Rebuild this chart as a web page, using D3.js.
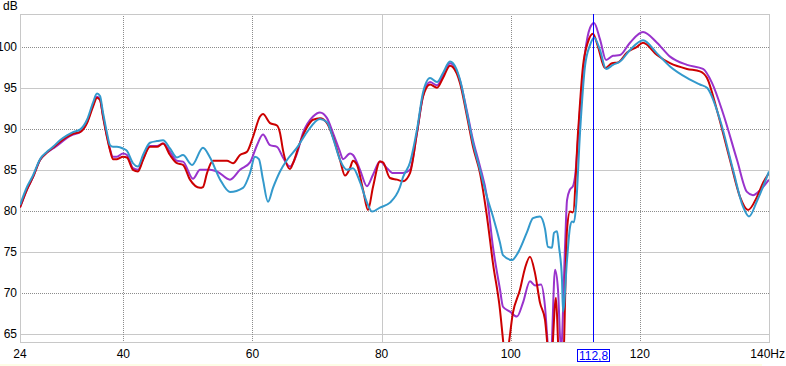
<!DOCTYPE html>
<html>
<head>
<meta charset="utf-8">
<script src="https://cdn.jsdelivr.net/npm/d3@7"></script>
<style>
body { margin: 0; background: #fff; }
svg { display: block; font-family: "Liberation Sans", Arial, sans-serif; }
.tick-label { font-size: 12px; fill: #000; }
.grid-dot { stroke: #8c8c8c; stroke-width: 1; stroke-dasharray: 1,1; shape-rendering: crispEdges; }
.grid-solid { stroke: #c8c8c8; stroke-width: 1; shape-rendering: crispEdges; }
.curve { fill: none; stroke-width: 2; stroke-linejoin: round; }
</style>
</head>
<body>
<div id="plot"></div>
<script>
// frequency response, [Hz, dB]
var redSeries = [
  [24.0,80.4],[25.08,82.6],[26.01,84.1],[27.1,86.2],[28.18,87.1],[29.11,87.7],[30.19,88.4],[31.28,89.0],
  [32.21,89.4],[33.29,89.6],[34.38,90.7],[35.31,92.7],[35.93,93.8],[36.39,93.5],[36.85,91.5],[37.47,89.0],
  [37.94,87.4],[38.4,86.3],[39.02,86.3],[39.95,86.6],[40.57,86.5],[41.5,85.0],[42.27,84.8],[43.05,86.2],
  [44.13,87.8],[45.22,87.8],[46.15,88.2],[47.23,86.8],[48.31,85.8],[49.24,85.6],[50.33,83.8],[51.88,82.8],
  [52.34,82.9],[52.96,84.6],[53.89,86.1],[56.06,86.1],[56.99,85.8],[58.07,86.8],[59.16,87.2],[60.08,89.0],
  [61.17,91.5],[61.63,91.8],[62.72,90.7],[63.8,90.4],[64.27,89.5],[64.73,87.4],[65.82,85.1],[66.28,85.8],
  [67.36,88.3],[68.45,90.2],[69.38,91.1],[70.46,91.3],[71.55,90.7],[72.47,89.0],[73.56,86.2],[74.33,84.3],
  [75.11,85.2],[75.57,86.1],[76.19,85.6],[77.12,82.6],[77.89,80.1],[78.67,82.9],[79.75,86.0],[80.22,85.9],
  [81.3,84.0],[82.39,83.8],[83.32,83.6],[84.4,84.6],[85.48,89.5],[86.41,93.9],[87.5,95.4],[88.58,95.0],
  [89.51,96.2],[90.59,97.7],[91.06,97.5],[92.14,95.6],[93.23,91.5],[94.16,87.8],[95.24,84.6],[96.32,79.3],
  [97.25,73.6],[98.34,67.9],[98.8,64.3],[99.11,62.0],[99.42,62.5],[100.35,67.6],[101.44,70.4],[102.21,73.0],
  [102.98,74.4],[103.76,72.4],[104.53,68.8],[105.31,66.7],[105.77,63.0],[106.2,61.0],[107.01,69.4],
  [107.48,62.0],[108.1,61.5],[108.72,77.7],[109.18,79.9],[109.64,79.8],[110.42,89.5],[111.19,97.6],
  [111.97,100.6],[112.74,101.6],[113.52,100.0],[114.6,97.4],[115.69,98.0],[116.62,98.1],[118.01,99.3],
  [119.56,100.0],[120.49,100.5],[122.65,99.0],[124.67,98.0],[127.3,97.3],[129.31,97.0],[130.4,96.2],
  [131.93,92.3],[133.96,86.2],[135.51,81.7],[136.75,80.1],[138.14,81.7],[139.07,83.4],[140.0,84.6]
];
var purpleSeries = [
  [24.0,80.4],[25.08,82.6],[26.01,84.1],[27.1,86.2],[28.18,87.1],[29.11,87.6],[30.19,88.2],[31.28,88.9],
  [32.21,89.3],[33.29,89.6],[34.38,90.8],[35.31,92.9],[35.93,93.9],[36.39,93.6],[36.85,91.6],[37.47,89.1],
  [37.94,87.5],[38.4,86.6],[39.02,86.6],[39.95,87.0],[40.57,86.8],[41.5,85.2],[42.27,85.0],[43.05,86.3],
  [44.13,87.9],[45.22,87.9],[46.15,88.2],[47.23,87.2],[48.31,86.1],[49.24,86.0],[50.79,83.9],[51.88,85.0],
  [53.43,85.0],[54.51,84.8],[56.52,83.8],[58.07,85.0],[59.62,85.9],[60.7,88.0],[61.63,89.3],[62.72,88.0],
  [63.8,87.8],[64.73,86.5],[65.82,85.4],[66.9,87.0],[67.83,89.5],[69.38,91.5],[70.46,92.0],[71.55,91.3],
  [72.47,89.5],[73.56,87.2],[74.02,86.3],[75.11,87.0],[75.57,86.8],[76.66,85.0],[77.74,83.0],[78.67,84.4],
  [79.75,86.0],[80.84,85.2],[81.77,84.6],[82.85,84.6],[83.32,84.6],[84.4,85.0],[85.48,89.5],[86.41,94.0],
  [87.5,95.7],[88.58,95.3],[89.51,96.5],[90.59,98.0],[91.06,97.8],[92.14,95.9],[93.23,92.1],[94.16,88.6],
  [95.24,85.4],[96.32,81.7],[97.25,75.6],[98.34,70.4],[98.8,68.3],[99.89,67.7],[100.97,67.1],[101.9,68.8],
  [102.98,71.4],[103.76,70.9],[104.69,71.0],[105.31,68.3],[105.77,63.5],[106.2,62.0],[106.86,72.8],
  [107.32,70.4],[107.79,63.0],[108.41,75.6],[108.72,81.3],[109.18,82.6],[109.64,83.0],[109.95,84.1],
  [110.73,92.3],[111.5,99.2],[112.28,102.3],[112.9,102.9],[113.83,100.9],[114.76,98.4],[115.84,98.9],
  [116.93,99.0],[118.47,100.5],[120.49,101.8],[122.65,100.5],[124.67,98.8],[127.3,97.8],[129.78,97.3],
  [131.17,95.6],[132.88,91.9],[135.05,86.2],[136.59,82.3],[137.52,81.9],[138.61,82.5],[140.0,83.8]
];
var blueSeries = [
  [24.0,80.7],[25.08,82.9],[26.01,84.3],[27.1,86.3],[28.18,87.2],[29.11,87.8],[30.19,88.6],[31.28,89.2],
  [32.21,89.6],[33.29,89.9],[34.38,91.1],[35.31,93.2],[35.93,94.3],[36.39,94.0],[36.85,92.0],[37.47,89.5],
  [37.94,88.0],[38.4,87.8],[39.02,87.8],[39.95,87.6],[40.57,87.3],[41.5,85.8],[42.27,85.4],[43.05,86.8],
  [44.13,88.3],[45.22,88.5],[46.15,88.6],[47.23,87.6],[48.31,86.5],[49.24,86.8],[50.64,85.6],[52.34,87.7],
  [53.43,86.5],[55.0,83.8],[56.52,82.3],[58.54,82.8],[59.62,84.6],[60.39,86.6],[61.0,86.3],[61.63,83.8],
  [62.41,81.1],[63.18,82.8],[64.27,84.8],[65.35,86.2],[66.9,87.7],[68.45,89.6],[70.46,91.2],[71.55,90.8],
  [72.47,88.9],[73.56,86.2],[74.64,85.0],[75.57,85.2],[76.66,83.5],[77.74,81.0],[78.51,79.9],[79.75,80.4],
  [81.3,81.0],[82.85,82.9],[83.32,84.1],[84.4,85.9],[85.48,89.9],[86.41,94.4],[87.5,96.2],[88.58,95.7],
  [89.51,96.8],[90.59,98.2],[91.06,98.0],[92.14,96.0],[93.23,91.9],[94.16,88.3],[95.24,85.0],[96.32,81.7],
  [97.25,79.3],[98.34,76.1],[98.8,74.6],[100.2,74.0],[101.13,74.9],[102.52,77.4],[103.45,79.1],[104.53,79.3],
  [105.31,77.8],[105.77,75.6],[106.39,75.5],[106.7,77.3],[107.17,77.5],[107.48,75.6],[107.94,71.6],
  [108.1,67.7],[108.72,74.0],[109.18,78.0],[109.49,78.7],[109.8,78.6],[110.11,80.5],[110.73,89.5],
  [111.5,97.6],[112.28,100.2],[112.9,101.1],[113.83,99.6],[114.76,97.3],[115.84,97.8],[116.93,98.2],
  [118.47,99.6],[120.49,100.8],[122.65,99.2],[124.67,97.6],[127.3,96.2],[129.31,95.4],[130.4,95.0],
  [132.41,91.1],[134.43,85.0],[135.98,80.5],[136.9,79.3],[138.14,81.2],[140.0,84.8]
];
var yTicks = [65, 70, 75, 80, 85, 90, 95, 100];
var xTicks = [24, 40, 60, 80, 100, 120];
var xDotted = [40, 60, 100, 120];
var xSolid = [80];
var cursorHz = 112.8;
var cursorLabel = "112,8";

var W = 786, H = 366;
var plotLeft = 20, plotRight = 769, plotTop = 14, plotBottom = 342;

var x = d3.scaleLinear().domain([24, 140]).range([plotLeft, plotRight]);
var y = d3.scaleLinear().domain([64, 104]).range([plotBottom, plotTop]);

var svg = d3.select('#plot').append('svg')
  .attr('width', W)
  .attr('height', H);

// faint strip along the bottom edge
svg.append('rect')
  .attr('x', 0).attr('y', 364).attr('width', 762).attr('height', 2)
  .attr('fill', '#fdfde6');

// horizontal grid: tens dotted, fives solid
yTicks.forEach(function(v){
  svg.append('line')
    .attr('class', v % 10 == 0 ? 'grid-dot' : 'grid-solid')
    .attr('x1', plotLeft).attr('x2', plotRight)
    .attr('y1', Math.round(y(v)) + 0.5).attr('y2', Math.round(y(v)) + 0.5);
});
xDotted.forEach(function(v){
  svg.append('line')
    .attr('class', 'grid-dot')
    .attr('x1', Math.round(x(v)) + 0.5).attr('x2', Math.round(x(v)) + 0.5)
    .attr('y1', plotTop).attr('y2', plotBottom);
});
xSolid.forEach(function(v){
  svg.append('line')
    .attr('class', 'grid-solid')
    .attr('x1', Math.round(x(v)) + 0.5).attr('x2', Math.round(x(v)) + 0.5)
    .attr('y1', plotTop).attr('y2', plotBottom);
});

// plot border
svg.append('rect')
  .attr('x', plotLeft + 0.5).attr('y', plotTop + 0.5)
  .attr('width', plotRight - plotLeft).attr('height', plotBottom - plotTop)
  .attr('fill', 'none').attr('stroke', '#c8c8c8')
  .attr('shape-rendering', 'crispEdges');

// y labels
svg.selectAll('.ylab')
  .data(yTicks)
  .enter().append('text')
  .attr('class', 'tick-label ylab')
  .attr('x', 17)
  .attr('y', function(d){ return y(d); })
  .attr('dy', '.35em')
  .attr('text-anchor', 'end')
  .text(function(d){ return d; });

svg.append('text')
  .attr('class', 'tick-label')
  .attr('x', 3).attr('y', 10)
  .text('dB');

// x labels
svg.selectAll('.xlab')
  .data(xTicks)
  .enter().append('text')
  .attr('class', 'tick-label xlab')
  .attr('x', function(d){ return x(d); })
  .attr('y', 358)
  .attr('text-anchor', 'middle')
  .text(function(d){ return d; });

svg.append('text')
  .attr('class', 'tick-label')
  .attr('x', 785).attr('y', 358)
  .attr('text-anchor', 'end')
  .text('140Hz');

// curves, clipped to the plot
svg.append('clipPath').attr('id', 'clip')
  .append('rect')
  .attr('x', plotLeft).attr('y', plotTop)
  .attr('width', plotRight - plotLeft).attr('height', plotBottom - plotTop);

var line = d3.line()
  .x(function(d){ return x(d[0]); })
  .y(function(d){ return y(d[1]); })
  .curve(d3.curveMonotoneX);

var curves = svg.append('g').attr('clip-path', 'url(#clip)');
[[purpleSeries, '#9933cc'], [redSeries, '#cc0000'], [blueSeries, '#3399cc']].forEach(function(s){
  curves.append('path')
    .datum(s[0])
    .attr('class', 'curve')
    .attr('stroke', s[1])
    .attr('d', line);
});

// cursor
var cx = Math.round(x(cursorHz)) + 0.5;
svg.append('line')
  .attr('x1', cx).attr('x2', cx)
  .attr('y1', plotTop).attr('y2', plotBottom)
  .attr('stroke', '#0000ff').attr('stroke-width', 1)
  .attr('shape-rendering', 'crispEdges');

svg.append('rect')
  .attr('x', cx - 16).attr('y', 349)
  .attr('width', 32).attr('height', 12)
  .attr('fill', '#fff').attr('stroke', '#0000ff')
  .attr('shape-rendering', 'crispEdges');

svg.append('text')
  .attr('class', 'tick-label')
  .attr('x', cx).attr('y', 359.5)
  .attr('text-anchor', 'middle')
  .style('fill', '#0000ff')
  .text(cursorLabel);
</script>
</body>
</html>
